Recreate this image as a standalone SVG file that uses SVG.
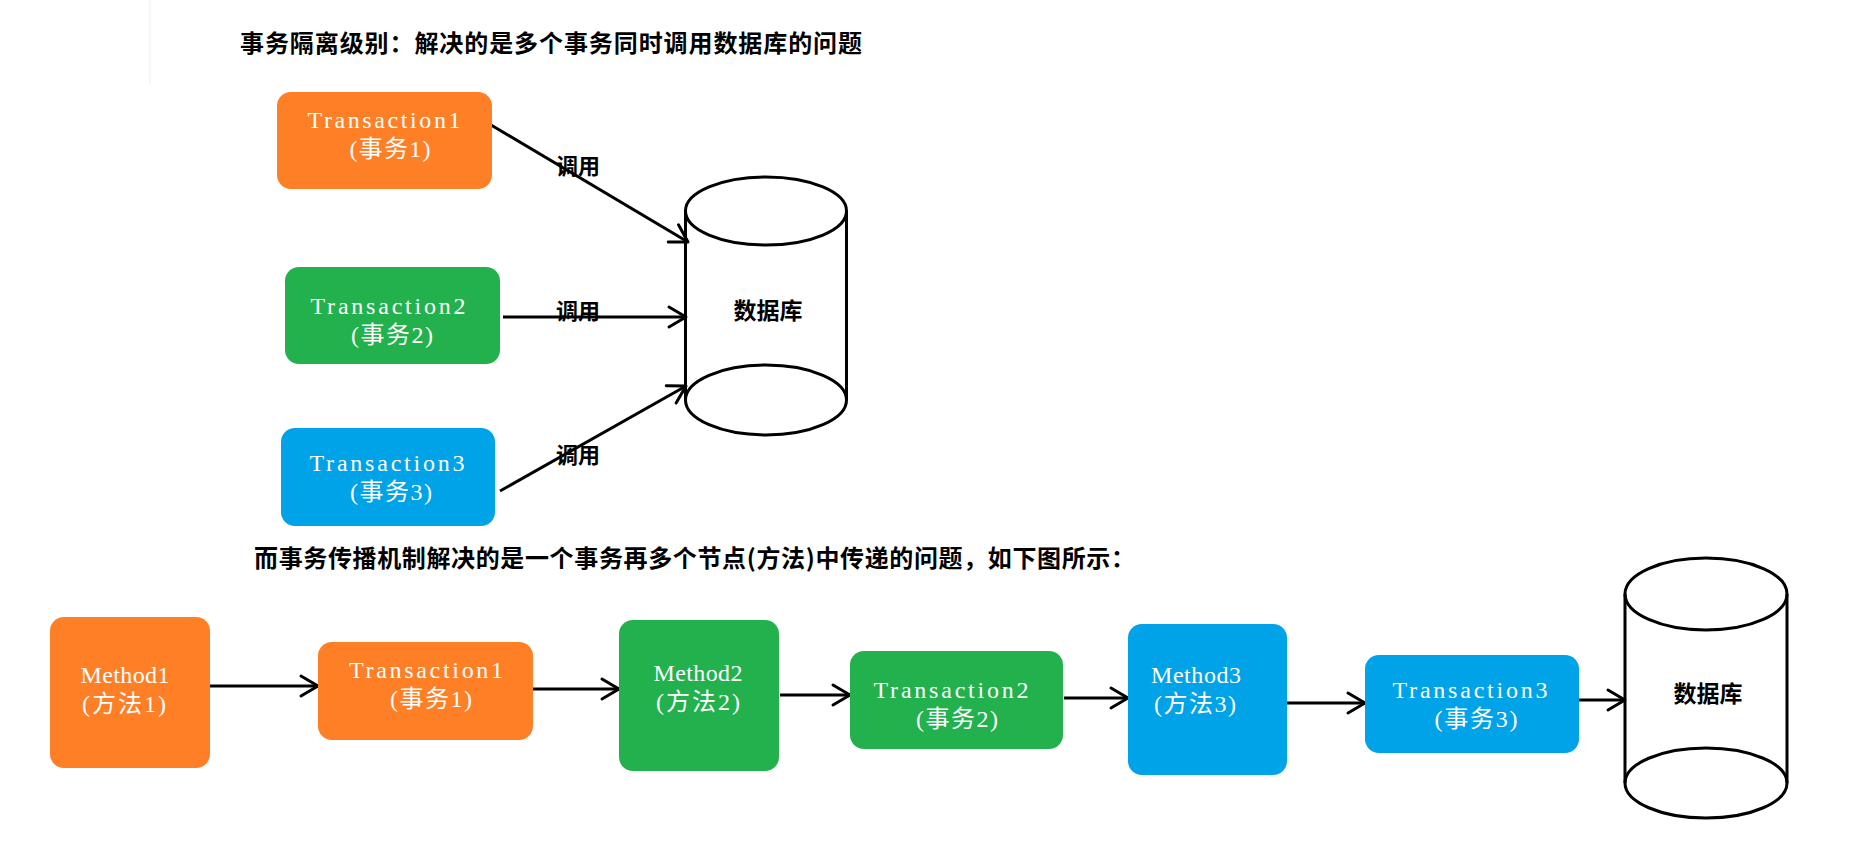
<svg xmlns="http://www.w3.org/2000/svg" width="1850" height="846" viewBox="0 0 1850 846">
<style>
.bg{fill:#fff}
.orange{fill:#FF7F27}
.green{fill:#22B14C}
.blue{fill:#00A2E8}
.lbl{font-family:"Liberation Serif","Noto Sans CJK SC",serif;font-size:24px;fill:#fff;text-anchor:middle}
.title{font-family:"Noto Sans CJK SC",sans-serif;font-size:24px;font-weight:bold;fill:#000}
.cjk{font-family:"Noto Sans CJK SC",sans-serif;font-weight:bold;fill:#000;text-anchor:middle}
.conn{stroke:#000;stroke-width:3;fill:none;marker-end:url(#arr)}
.cyl{stroke:#000;stroke-width:3;fill:none}
</style>
<defs>
<marker id="arr" markerUnits="userSpaceOnUse" viewBox="-22 -13 26 26" refX="0" refY="0" markerWidth="26" markerHeight="26" orient="auto">
<path d="M-17,-10 L0,0 L-17,10" fill="none" stroke="#000" stroke-width="3" stroke-linecap="round" stroke-linejoin="round"/>
</marker>
</defs>
<rect class="bg" x="0" y="0" width="1850" height="846"/>
<line x1="150" y1="0" x2="150" y2="84" stroke="#f0f0f0" stroke-width="1"/>

<text id="title1" class="title" x="240" y="52" textLength="622" lengthAdjust="spacing">事务隔离级别：解决的是多个事务同时调用数据库的问题</text>
<text id="title2" class="title" x="254" y="567" textLength="881" lengthAdjust="spacing">而事务传播机制解决的是一个事务再多个节点(方法)中传递的问题，如下图所示：</text>

<g id="connectors">
<path class="conn" d="M491,125 L688,242"/>
<path class="conn" d="M503,317 L686,317"/>
<path class="conn" d="M500,491 L686,386"/>
<path class="conn" d="M210,686 L318,686"/>
<path class="conn" d="M533,689 L619,689"/>
<path class="conn" d="M780,695 L850,695"/>
<path class="conn" d="M1064,698 L1128,698"/>
<path class="conn" d="M1287,703 L1365,703"/>
<path class="conn" d="M1579,700 L1625,700"/>
<text class="cjk" x="578" y="174" font-size="22">调用</text>
<text class="cjk" x="578" y="319" font-size="22">调用</text>
<text class="cjk" x="578" y="463" font-size="22">调用</text>
</g>

<g id="top-t1">
<rect class="orange" x="277" y="92" width="215" height="97" rx="14"/>
<text class="lbl" x="384" y="128" textLength="153">Transaction1</text>
<text class="lbl" x="390" y="157" textLength="81">(事务1)</text>
</g>
<g id="top-t2">
<rect class="green" x="285" y="267" width="215" height="97" rx="14"/>
<text class="lbl" x="388" y="314" textLength="155">Transaction2</text>
<text class="lbl" x="392" y="343" textLength="82">(事务2)</text>
</g>
<g id="top-t3">
<rect class="blue" x="281" y="428" width="214" height="98" rx="14"/>
<text class="lbl" x="387" y="471" textLength="155">Transaction3</text>
<text class="lbl" x="391" y="500" textLength="82">(事务3)</text>
</g>
<g id="top-db">
<ellipse class="cyl" cx="766" cy="211" rx="80.5" ry="34"/>
<ellipse class="cyl" cx="766" cy="400" rx="80.5" ry="35"/>
<line class="cyl" x1="685.5" y1="211" x2="685.5" y2="400"/>
<line class="cyl" x1="846.5" y1="211" x2="846.5" y2="400"/>
<text class="cjk" x="768" y="319" font-size="23">数据库</text>
</g>

<g id="method1">
<rect class="orange" x="50" y="617" width="160" height="151" rx="14"/>
<text class="lbl" x="125" y="683" textLength="89">Method1</text>
<text class="lbl" x="124" y="712" textLength="84">(方法1)</text>
</g>
<g id="bot-t1">
<rect class="orange" x="318" y="642" width="215" height="98" rx="14"/>
<text class="lbl" x="426" y="678" textLength="154">Transaction1</text>
<text class="lbl" x="431" y="707" textLength="82">(事务1)</text>
</g>
<g id="method2">
<rect class="green" x="619" y="620" width="160" height="151" rx="14"/>
<text class="lbl" x="698" y="681" textLength="89">Method2</text>
<text class="lbl" x="698" y="710" textLength="84">(方法2)</text>
</g>
<g id="bot-t2">
<rect class="green" x="850" y="651" width="213" height="98" rx="14"/>
<text class="lbl" x="951" y="698" textLength="155">Transaction2</text>
<text class="lbl" x="957" y="727" textLength="82">(事务2)</text>
</g>
<g id="method3">
<rect class="blue" x="1128" y="624" width="159" height="151" rx="14"/>
<text class="lbl" x="1196" y="683" textLength="90">Method3</text>
<text class="lbl" x="1195" y="712" textLength="82">(方法3)</text>
</g>
<g id="bot-t3">
<rect class="blue" x="1365" y="655" width="214" height="98" rx="14"/>
<text class="lbl" x="1470" y="698" textLength="155">Transaction3</text>
<text class="lbl" x="1476" y="727" textLength="83">(事务3)</text>
</g>
<g id="bot-db">
<ellipse class="cyl" cx="1706" cy="594" rx="81" ry="36"/>
<ellipse class="cyl" cx="1706" cy="783" rx="81" ry="35"/>
<line class="cyl" x1="1625" y1="594" x2="1625" y2="783"/>
<line class="cyl" x1="1787" y1="594" x2="1787" y2="783"/>
<text class="cjk" x="1708" y="702" font-size="23">数据库</text>
</g>
</svg>
